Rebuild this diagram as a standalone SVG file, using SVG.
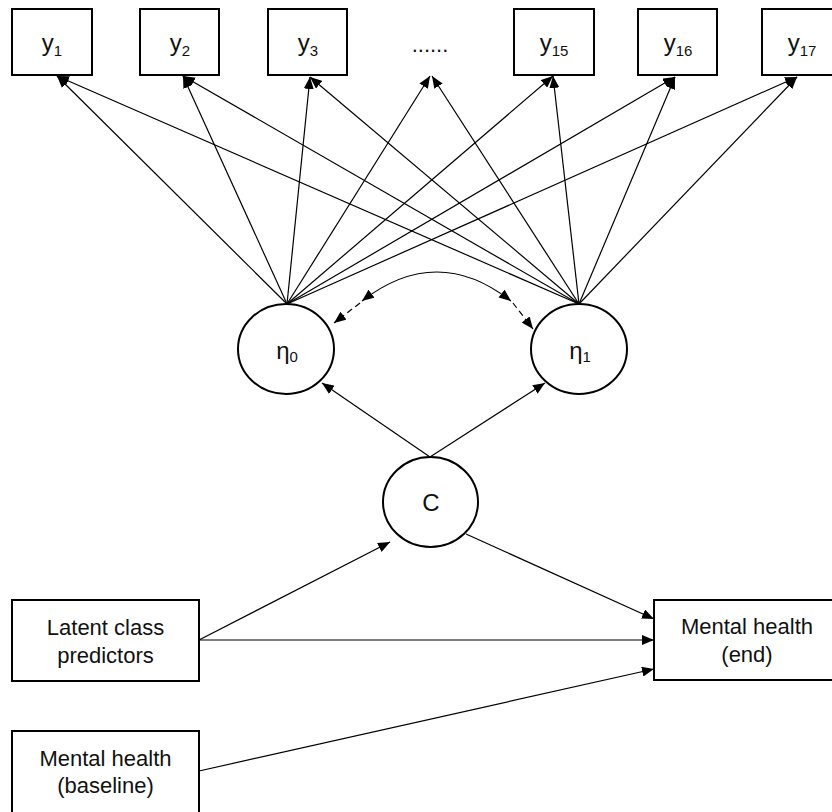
<svg xmlns="http://www.w3.org/2000/svg" width="832" height="812" viewBox="0 0 832 812">
<defs>
<marker id="arr" viewBox="0 0 12 10" refX="12" refY="5" markerWidth="12" markerHeight="10" markerUnits="userSpaceOnUse" orient="auto-start-reverse">
<path d="M0,0 L12,5 L0,10 z" fill="#000"/>
</marker>
<style>
.box{fill:#fff;stroke:#000;stroke-width:2}
.lat{fill:#fff;stroke:#000;stroke-width:2}
.lbl{font-family:"Liberation Sans",Arial,sans-serif;font-size:22px;fill:#111;text-anchor:middle}
.ylbl{font-family:"Liberation Sans",Arial,sans-serif;font-size:24px;fill:#111;text-anchor:middle}
.sub{font-size:15px}
.con line,.con path{stroke:#000;stroke-width:1.2;fill:none;marker-end:url(#arr)}
</style>
</defs>
<rect width="832" height="812" fill="#fff"/>

<g id="connectors" class="con">
<line x1="287" y1="304" x2="57" y2="76"/>
<line x1="287" y1="304" x2="183" y2="76"/>
<line x1="287" y1="304" x2="310" y2="77"/>
<line x1="287" y1="304" x2="430" y2="76"/>
<line x1="287" y1="304" x2="553" y2="76"/>
<line x1="287" y1="304" x2="675" y2="77"/>
<line x1="287" y1="304" x2="797" y2="77"/>
<line x1="579" y1="304" x2="57" y2="76"/>
<line x1="579" y1="304" x2="183" y2="76"/>
<line x1="579" y1="304" x2="310" y2="77"/>
<line x1="579" y1="304" x2="432" y2="76"/>
<line x1="579" y1="304" x2="553" y2="76"/>
<line x1="579" y1="304" x2="675" y2="77"/>
<line x1="579" y1="304" x2="797" y2="77"/>
<path d="M362,301 Q437,243 511,301" style="marker-start:url(#arr)"/>
<line x1="360" y1="303" x2="334" y2="323" stroke-dasharray="6,4"/>
<line x1="513" y1="303" x2="533" y2="329" stroke-dasharray="6,4"/>
<line x1="430" y1="457" x2="322" y2="383"/>
<line x1="430" y1="457" x2="545" y2="383"/>
<line x1="199" y1="640" x2="390" y2="542"/>
<line x1="199" y1="640" x2="654" y2="640"/>
<line x1="466" y1="534" x2="654" y2="619"/>
<line x1="199" y1="771" x2="654" y2="669"/>
</g>

<g id="y1"><rect class="box" x="12" y="9" width="80" height="66"/><text class="ylbl" x="52" y="51">y<tspan class="sub" dy="5">1</tspan></text></g>
<g id="y2"><rect class="box" x="140" y="9" width="79" height="66"/><text class="ylbl" x="180" y="51">y<tspan class="sub" dy="5">2</tspan></text></g>
<g id="y3"><rect class="box" x="268" y="9" width="79" height="66"/><text class="ylbl" x="308" y="51">y<tspan class="sub" dy="5">3</tspan></text></g>
<g id="dots"><text class="lbl" x="430" y="52">......</text></g>
<g id="y15"><rect class="box" x="514" y="9" width="80" height="66"/><text class="ylbl" x="554" y="51">y<tspan class="sub" dy="5">15</tspan></text></g>
<g id="y16"><rect class="box" x="638" y="9" width="79" height="66"/><text class="ylbl" x="678" y="51">y<tspan class="sub" dy="5">16</tspan></text></g>
<g id="y17"><rect class="box" x="762" y="9" width="80" height="66"/><text class="ylbl" x="802" y="51">y<tspan class="sub" dy="5">17</tspan></text></g>

<g id="eta0"><ellipse class="lat" cx="286" cy="349" rx="48" ry="45"/><text class="ylbl" x="287" y="359">η<tspan class="sub" dy="3">0</tspan></text></g>
<g id="eta1"><ellipse class="lat" cx="579" cy="349" rx="48" ry="45"/><text class="ylbl" x="580" y="359">η<tspan class="sub" dy="3">1</tspan></text></g>
<g id="c"><ellipse class="lat" cx="430.5" cy="502" rx="47.5" ry="45"/><text class="ylbl" x="431" y="511">C</text></g>

<g id="predictors"><rect class="box" x="12" y="600" width="187" height="81"/><text class="lbl" x="105.5" y="635">Latent class</text><text class="lbl" x="105.5" y="663">predictors</text></g>
<g id="baseline"><rect class="box" x="12" y="731" width="187" height="82"/><text class="lbl" x="105.5" y="766">Mental health</text><text class="lbl" x="105.5" y="793">(baseline)</text></g>
<g id="end"><rect class="box" x="654" y="600" width="187" height="80"/><text class="lbl" x="747" y="634">Mental health</text><text class="lbl" x="747" y="662">(end)</text></g>
</svg>
